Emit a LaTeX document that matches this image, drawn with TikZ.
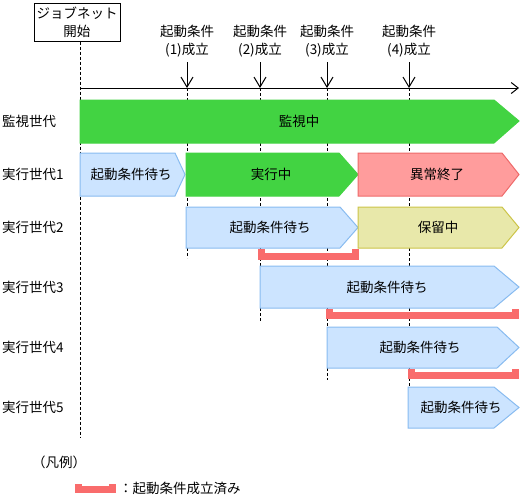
\documentclass[tikz,border=0pt]{standalone}
\usepackage{fontspec}
\setmainfont{Noto Sans CJK JP}
\usetikzlibrary{arrows.meta}
\definecolor{watchG}{HTML}{42D342}
\definecolor{waitF}{HTML}{CCE4FF}
\definecolor{waitD}{HTML}{88BBF0}
\definecolor{errF}{HTML}{FF9C9C}
\definecolor{errD}{HTML}{EE6A6A}
\definecolor{holdF}{HTML}{E8E8AA}
\definecolor{holdD}{HTML}{CCC448}
\definecolor{doneR}{HTML}{F96C6C}
\tikzset{
  every node/.style={font=\fontsize{13.5}{18}\selectfont, inner sep=1pt},
  guide/.style={line width=1pt, dash pattern=on 3pt off 2pt},
  runbox/.style={fill=watchG, draw=watchG, line width=1pt},
  waitbox/.style={fill=waitF, draw=waitD, line width=1pt},
  errbox/.style={fill=errF, draw=errD, line width=1pt},
  holdbox/.style={fill=holdF, draw=holdD, line width=1pt},
  donebar/.style={draw=doneR, line width=7pt},
  gen/.style={anchor=west},
}
\begin{document}
\begin{tikzpicture}[x=1pt,y=-1pt]
  \useasboundingbox (0,0) rectangle (528,499);
  % start of the jobnet
  \node[draw, line width=1pt, minimum width=86pt, minimum height=38pt, align=center] (start) at (77,22) {ジョブネット\\開始};
  \coordinate (t0) at (80,88);
  \coordinate (tend) at (519,88);
  % conditions
  \node[align=center] (c1) at (187,41) {起動条件\\(1)成立};
  \node[align=center] (c2) at (260,41) {起動条件\\(2)成立};
  \node[align=center] (c3) at (327,41) {起動条件\\(3)成立};
  \node[align=center] (c4) at (409,41) {起動条件\\(4)成立};
  \coordinate (e1) at (187,88);
  \coordinate (e2) at (260,88);
  \coordinate (e3) at (327,88);
  \coordinate (e4) at (409,88);
  % guide lines
  \draw[guide] (start.south -| t0) -- (80,437);
  \draw[guide] (e1) -- (187,258);
  \draw[guide] (e2) -- (260,322);
  \draw[guide] (e3) -- (327,380);
  \draw[guide] (e4) -- (409,388);
  % time axis
  \draw[line width=1pt, -{Straight Barb[length=7pt,width=11pt]}] (t0) -- (tend);
  \begin{scope}[line width=1pt, -{Straight Barb[length=10pt,width=12pt]}]
    \draw (187,62) -- (e1);
    \draw (260,62) -- (e2);
    \draw (327,62) -- (e3);
    \draw (409,62) -- (e4);
  \end{scope}
  % generations
  \node[gen] (g0) at (1,121) {監視世代};
  \node[gen] (g1) at (1,174.5) {実行世代1};
  \node[gen] (g2) at (1,227.5) {実行世代2};
  \node[gen] (g3) at (1,287) {実行世代3};
  \node[gen] (g4) at (1,347.5) {実行世代4};
  \node[gen] (g5) at (1,407.5) {実行世代5};
  % monitoring
  \draw[runbox] (80,100) -- (494,100) -- (519,121) -- (494,143) -- (80,143) -- cycle;
  \node (watch) at (299,121) {監視中};
  % generation 1
  \draw[waitbox] (80,153) -- (175,153) -- (185,174.5) -- (175,196) -- (80,196) -- cycle;
  \node (wait1) at (131,174.5) {起動条件待ち};
  \draw[runbox] (186,153) -- (339,153) -- (358,174.5) -- (339,196) -- (186,196) -- cycle;
  \node (run1) at (271,174.5) {実行中};
  \draw[errbox] (358,153) -- (502,153) -- (519,174.5) -- (502,196) -- (358,196) -- cycle;
  \node (err1) at (437,174.5) {異常終了};
  % generation 2
  \draw[waitbox] (186,207) -- (340,207) -- (358,227.5) -- (340,248) -- (186,248) -- cycle;
  \node (wait2) at (270,227.5) {起動条件待ち};
  \draw[holdbox] (358,207) -- (502,207) -- (519,227.5) -- (502,248) -- (358,248) -- cycle;
  \node (hold2) at (438,227.5) {保留中};
  % generation 3
  \draw[waitbox] (260,266) -- (494,266) -- (519,287) -- (494,308) -- (260,308) -- cycle;
  \node (wait3) at (387,287) {起動条件待ち};
  % generation 4
  \draw[waitbox] (327,327) -- (497,327) -- (519,347.5) -- (497,368) -- (327,368) -- cycle;
  \node (wait4) at (420,347.5) {起動条件待ち};
  % generation 5
  \draw[waitbox] (408,387) -- (494,387) -- (519,407.5) -- (494,428) -- (408,428) -- cycle;
  \node (wait5) at (461,407.5) {起動条件待ち};
  % condition met
  \draw[donebar] (261.5,249) |- (355.5,256.5) -- (355.5,249);
  \draw[donebar] (329.5,309) |- (515.5,315.5) -- (515.5,309);
  \draw[donebar] (411.5,369) |- (515.5,375.5) -- (515.5,369);
  % legend
  \node (legend) at (59,462) {（凡例）};
  \draw[donebar] (78.5,484) |- (112.5,489.5) -- (112.5,484);
  \node[anchor=west] (donetext) at (118,488) {：起動条件成立済み};
\end{tikzpicture}
\end{document}
